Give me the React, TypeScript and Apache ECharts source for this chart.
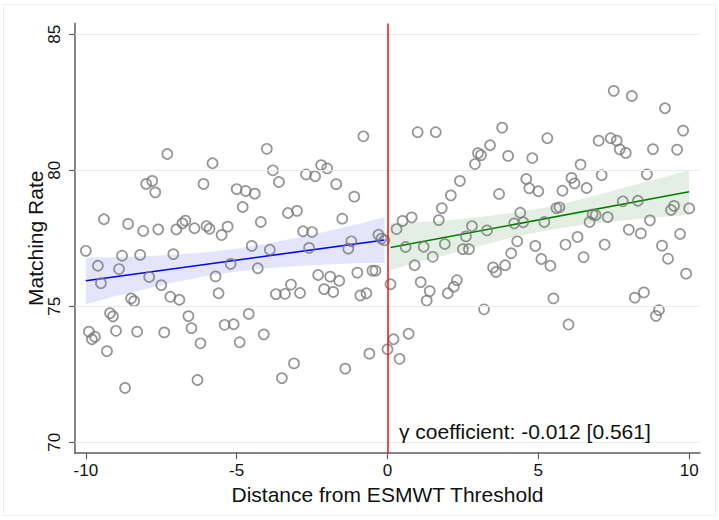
import React, { useEffect, useRef } from "react";
import * as echarts from "echarts";

// Scatter data (one observation per 0.1 step of the running variable)
const leftX = [-10,-9.9,-9.8,-9.7,-9.6,-9.5,-9.4,-9.3,-9.2,-9.1,-9,-8.9,-8.8,-8.7,-8.6,-8.5,-8.4,-8.3,-8.2,-8.1,-8,-7.9,-7.8,-7.7,-7.6,-7.5,-7.4,-7.3,-7.2,-7.1,-7,-6.9,-6.8,-6.7,-6.6,-6.5,-6.4,-6.3,-6.2,-6.1,-6,-5.9,-5.8,-5.7,-5.6,-5.5,-5.4,-5.3,-5.2,-5.1,-5,-4.9,-4.8,-4.7,-4.6,-4.5,-4.4,-4.3,-4.2,-4.1,-4,-3.9,-3.8,-3.7,-3.6,-3.5,-3.4,-3.3,-3.2,-3.1,-3,-2.9,-2.8,-2.7,-2.6,-2.5,-2.4,-2.3,-2.2,-2.1,-2,-1.9,-1.8,-1.7,-1.6,-1.5,-1.4,-1.3,-1.2,-1.1,-1,-0.9,-0.8,-0.7,-0.6,-0.5,-0.4,-0.3,-0.2,-0.1,0];
const leftY = [
  77.04,74.07,73.79,73.88,76.49,75.85,78.20,73.35,74.75,74.63,
  74.10,76.37,76.86,72.00,78.03,75.29,75.19,74.07,76.89,77.77,
  79.50,76.08,79.61,79.19,77.83,75.78,74.04,80.60,75.35,76.92,
  77.83,75.24,78.05,78.15,74.64,74.20,77.87,72.29,73.64,79.50,
  77.95,77.85,80.26,76.10,75.48,77.62,74.32,77.93,76.56,74.34,
  79.31,73.68,78.65,79.24,74.72,77.22,79.14,76.40,78.10,73.97,
  80.79,77.08,80.00,75.45,79.57,72.36,75.46,78.43,75.80,72.90,
  78.51,75.49,77.76,79.85,77.15,77.73,79.78,76.15,80.19,75.63,
  80.07,76.09,75.53,79.49,75.94,78.22,72.71,77.12,77.39,79.03,
  76.24,75.40,81.25,75.48,73.26,76.31,76.31,77.63,77.49,77.43,
  73.42
];
const rightX = [0.1,0.2,0.3,0.4,0.5,0.6,0.7,0.8,0.9,1,1.1,1.2,1.3,1.4,1.5,1.6,1.7,1.8,1.9,2,2.1,2.2,2.3,2.4,2.5,2.6,2.7,2.8,2.9,3,3.1,3.2,3.3,3.4,3.5,3.6,3.7,3.8,3.9,4,4.1,4.2,4.3,4.4,4.5,4.6,4.7,4.8,4.9,5,5.1,5.2,5.3,5.4,5.5,5.6,5.7,5.8,5.9,6,6.1,6.2,6.3,6.4,6.5,6.6,6.7,6.8,6.9,7,7.1,7.2,7.3,7.4,7.5,7.6,7.7,7.8,7.9,8,8.1,8.2,8.3,8.4,8.5,8.6,8.7,8.8,8.9,9,9.1,9.2,9.3,9.4,9.5,9.6,9.7,9.8,9.9,10];
const rightY = [
  75.81,73.79,77.84,73.07,78.14,77.18,73.99,78.27,76.51,81.40,
  75.89,77.19,75.21,75.56,76.82,81.40,78.17,78.61,77.29,75.48,
  79.08,75.72,75.96,79.61,77.10,77.57,77.10,77.95,80.23,80.63,
  80.56,74.89,77.79,80.92,76.43,76.26,79.13,81.57,76.51,80.53,
  76.95,78.05,77.39,78.44,78.09,79.68,79.34,80.45,77.22,79.23,
  76.74,78.10,81.18,76.49,75.29,78.61,78.64,79.25,77.27,74.33,
  79.72,79.52,77.55,80.21,76.81,79.35,78.10,78.38,78.35,81.09,
  79.82,77.27,78.28,81.18,82.92,81.09,80.77,78.86,80.64,77.82,
  82.73,75.32,78.88,77.68,75.51,79.85,78.16,80.78,74.65,74.86,
  77.23,82.28,76.75,78.54,78.69,80.76,77.66,81.46,76.20,78.60
];

// Linear fits (endpoints) and 95% CI bands
const leftFitX = [-10, -0.1];
const leftFitY = [75.94, 77.44];
const rightFitX = [0.1, 10];
const rightFitY = [77.16, 79.21];

const leftBandX = [-10, -9, -8, -7, -6, -5, -4, -3, -2, -1, -0.1];
const leftBandLo = [75.08, 75.38, 75.64, 75.90, 76.11, 76.28, 76.40, 76.48, 76.54, 76.58, 76.60];
const leftBandHi = [76.79, 76.80, 76.84, 76.90, 76.99, 77.12, 77.30, 77.52, 77.76, 78.02, 78.27];
const rightBandX = [0.1, 1, 2, 3, 4, 5, 6, 7, 8, 9, 10];
const rightBandLo = [76.33, 76.63, 76.90, 77.21, 77.49, 77.73, 77.92, 78.06, 78.17, 78.27, 78.36];
const rightBandHi = [78.05, 78.09, 78.16, 78.27, 78.41, 78.59, 78.82, 79.10, 79.41, 79.70, 80.0];

const xTicks = [-10, -5, 0, 5, 10];
const yTicks = [70, 75, 80, 85];
const cutoff = 0;

const FONT = "'Liberation Sans', Arial, Helvetica, sans-serif";

export default function App() {
  const ref = useRef<HTMLDivElement>(null);
  useEffect(() => {
    if (!ref.current) return;
    const chart = echarts.init(ref.current, undefined, { renderer: "svg" });
    const zip = (xs: number[], ys: number[]) => xs.map((x, i) => [x, ys[i]]);

    const bandSeries = (name: string, xs: number[], lo: number[], hi: number[], fill: string) => ({
      type: "custom",
      name,
      silent: true,
      z: 1,
      data: [[xs[0], lo[0]]],
      renderItem: (_params: any, api: any) => {
        const top = xs.map((x, i) => api.coord([x, hi[i]]));
        const bottom = xs.map((x, i) => api.coord([x, lo[i]])).reverse();
        return {
          type: "polygon",
          shape: { points: top.concat(bottom) },
          style: { fill, stroke: "none" },
        };
      },
    });

    const axisColor = "#5c5c5c";

    chart.setOption({
      animation: false,
      backgroundColor: "#ffffff",
      textStyle: { fontFamily: FONT },
      grid: {
        left: 75,
        right: 19,
        top: 23.4,
        bottom: 66.8,
        containLabel: false,
        outerBoundsMode: "none",
      },
      xAxis: {
        type: "value",
        min: -10.36,
        max: 10.36,
        name: "Distance from ESMWT Threshold",
        nameLocation: "middle",
        nameGap: 28,
        nameTextStyle: { fontSize: 21, color: "#111", fontFamily: FONT },
        axisLine: { onZero: false, lineStyle: { color: axisColor, width: 1.5 } },
        axisTick: { show: true, customValues: xTicks, length: 6, lineStyle: { color: axisColor, width: 1.2 } },
        axisLabel: { customValues: xTicks, fontSize: 17, color: "#111", margin: 9, fontFamily: FONT },
        splitLine: { show: false },
      },
      yAxis: {
        type: "value",
        min: 69.6,
        max: 85.4,
        name: "Matching Rate",
        nameLocation: "middle",
        nameGap: 29,
        nameMoveOverlap: false,
        nameTextStyle: { fontSize: 21, color: "#111", fontFamily: FONT },
        axisLine: { show: true, onZero: false, lineStyle: { color: axisColor, width: 1.5 } },
        axisTick: { show: true, customValues: yTicks, length: 6, lineStyle: { color: axisColor, width: 1.2 } },
        axisLabel: { customValues: yTicks, fontSize: 17, color: "#111", rotate: 90, margin: 12, fontFamily: FONT },
        splitLine: { show: false },
      },
      series: [
        {
          type: "line",
          name: "grid",
          data: [],
          z: 0,
          markLine: {
            silent: true,
            symbol: "none",
            label: { show: false },
            lineStyle: { color: "#e4edf0", width: 1.2, type: "solid" },
            data: yTicks.map((v) => ({ yAxis: v })),
          },
        },
        bandSeries("leftBand", leftBandX, leftBandLo, leftBandHi, "#e4e4fb"),
        bandSeries("rightBand", rightBandX, rightBandLo, rightBandHi, "#e3efe3"),
        {
          type: "line",
          name: "leftFit",
          symbol: "none",
          silent: true,
          data: zip(leftFitX, leftFitY),
          lineStyle: { color: "#0000ff", width: 1.6 },
          z: 2,
        },
        {
          type: "line",
          name: "rightFit",
          symbol: "none",
          silent: true,
          data: zip(rightFitX, rightFitY),
          lineStyle: { color: "#008000", width: 1.6 },
          z: 2,
        },
        {
          type: "scatter",
          name: "left",
          symbol: "circle",
          symbolSize: 10,
          data: zip(leftX, leftY),
          itemStyle: { color: "rgba(0,0,0,0)", borderColor: "#7a7a7a", borderWidth: 1.7 },
          z: 3,
        },
        {
          type: "scatter",
          name: "right",
          symbol: "circle",
          symbolSize: 10,
          data: zip(rightX, rightY),
          itemStyle: { color: "rgba(0,0,0,0)", borderColor: "#7a7a7a", borderWidth: 1.7 },
          z: 3,
        },
        {
          type: "line",
          name: "cutoff",
          data: [],
          z: 5,
          markLine: {
            silent: true,
            symbol: "none",
            label: { show: false },
            lineStyle: { color: "#ee1111", width: 1.5, type: "solid" },
            data: [{ xAxis: cutoff }],
          },
        },
      ],
      graphic: [
        {
          type: "rect",
          silent: true,
          shape: { x: 3.5, y: 4.5, width: 712, height: 511 },
          style: { fill: "none", stroke: "#eeeeee", lineWidth: 1 },
          z: -1,
        },
        {
          type: "text",
          x: 399,
          y: 431,
          silent: true,
          style: {
            text: "γ coefficient: -0.012 [0.561]",
            font: `21px ${FONT}`,
            fill: "#111",
            verticalAlign: "middle",
          },
          z: 10,
        },
      ],
    });
    return () => chart.dispose();
  }, []);
  return (
    <div
      ref={ref}
      style={{ position: "fixed", left: 0, top: 0, width: 719, height: 520 }}
    />
  );
}
